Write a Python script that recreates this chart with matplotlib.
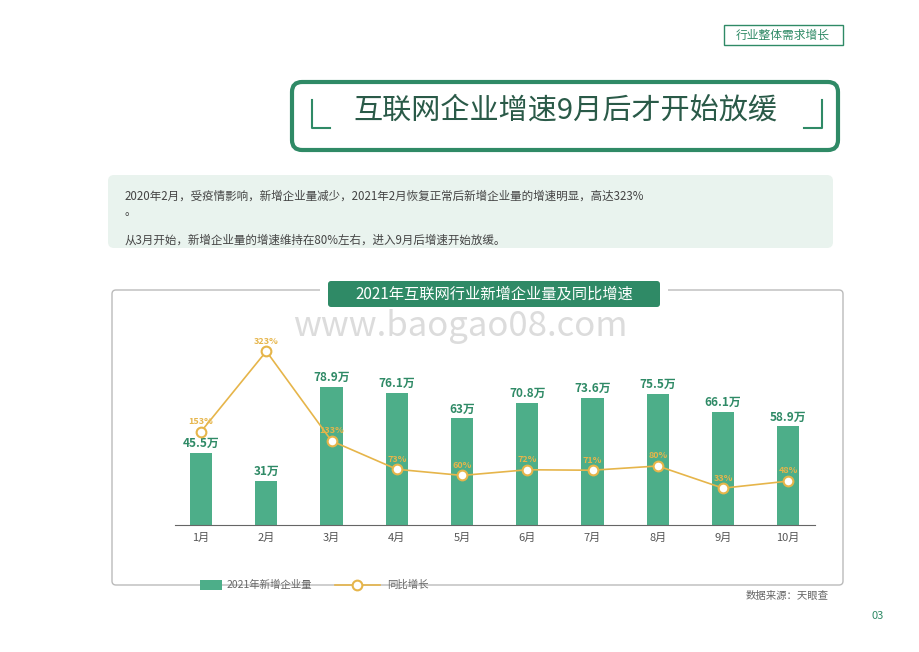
import matplotlib
matplotlib.use("Agg")
import matplotlib.pyplot as plt
from matplotlib.patches import FancyBboxPatch, Rectangle

plt.rcParams["font.family"] = "Noto Sans CJK SC"

months = ["1月", "2月", "3月", "4月", "5月", "6月", "7月", "8月", "9月", "10月"]
new_firms = [45.5, 31, 78.9, 76.1, 63, 70.8, 73.6, 75.5, 66.1, 58.9]
bar_labels = ["45.5万", "31万", "78.9万", "76.1万", "63万", "70.8万", "73.6万", "75.5万", "66.1万", "58.9万"]
yoy = [153, 323, 133, 73, 60, 72, 71, 80, 33, 48]

GREEN = "#4dae89"
DGREEN = "#2f8a66"
GOLD = "#e6b54a"

W, H = 920, 652
fig = plt.figure(figsize=(9.2, 6.52), dpi=100)
bg = fig.add_axes([0, 0, 1, 1])
bg.set_xlim(0, W); bg.set_ylim(H, 0); bg.axis("off")

bg.add_patch(Rectangle((724, 25), 119, 20, fill=False, ec=DGREEN, lw=1))
bg.text(783, 35, "行业整体需求增长", ha="center", va="center", fontsize=8.5, color=DGREEN)

bg.add_patch(FancyBboxPatch((292, 82), 546, 68, boxstyle="round,pad=0,rounding_size=10",
                            fill=False, ec=DGREEN, lw=3))
bg.text(565, 111, "互联网企业增速9月后才开始放缓", ha="center", va="center",
        fontsize=21, color="#2a5a48")
bg.plot([312, 312, 330], [100, 128, 128], color=DGREEN, lw=1.5)
bg.plot([822, 822, 804], [100, 128, 128], color=DGREEN, lw=1.5)

bg.add_patch(FancyBboxPatch((108, 175), 725, 73, boxstyle="round,pad=0,rounding_size=6",
                            fc="#e9f3ee", ec="none"))
tc = "#444444"
bg.text(125, 196, "2020年2月，受疫情影响，新增企业量减少，2021年2月恢复正常后新增企业量的增速明显，高达323%",
        va="center", fontsize=8.3, color=tc)
bg.text(125, 211, "。", va="center", fontsize=8.3, color=tc)
bg.text(125, 240, "从3月开始，新增企业量的增速维持在80%左右，进入9月后增速开始放缓。",
        va="center", fontsize=8.3, color=tc)

bg.add_patch(FancyBboxPatch((112, 290), 731, 295, boxstyle="round,pad=0,rounding_size=4",
                            fill=False, ec="#bbbbbb", lw=1))
bg.text(460, 326, "www.baogao08.com", ha="center", va="center", fontsize=25,
        color="#dcdcdc", zorder=0)
bg.add_patch(Rectangle((320, 279), 348, 28, fc="white", ec="none", zorder=1))
bg.add_patch(FancyBboxPatch((328, 281), 332, 26, boxstyle="round,pad=0,rounding_size=3",
                            fc=DGREEN, ec="none", zorder=2))
bg.text(494, 294, "2021年互联网行业新增企业量及同比增速", ha="center", va="center",
        fontsize=11, color="white", zorder=3)

bg.add_patch(Rectangle((200, 580), 22, 10, fc=GREEN, ec="none"))
bg.text(227, 585, "2021年新增企业量", va="center", fontsize=7.5, color="#666666")
bg.plot([335, 380], [585, 585], color=GOLD, lw=1.2)
bg.plot([357], [585], "o", ms=7, mfc="white", mec=GOLD, mew=1.5)
bg.text(387, 585, "同比增长", va="center", fontsize=7.5, color="#666666")
bg.text(746, 596, "数据来源：天眼查", va="center", fontsize=7.5, color="#666666")
bg.text(878, 616, "03", ha="center", va="center", fontsize=8, color=DGREEN)

ax = fig.add_axes([175 / W, (H - 525) / H, 640 / W, 195 / H])
x = list(range(len(months)))
ax.bar(x, new_firms, width=0.34, color=GREEN, zorder=2)
ax.set_xlim(-0.4, 9.41)
ax.set_ylim(8.7, 108)
for xi, v, lab in zip(x, new_firms, bar_labels):
    ax.text(xi, v + 1.5, lab, ha="center", va="bottom", fontsize=8.5,
            fontweight="bold", color=DGREEN)
ax.set_xticks(x)
ax.set_xticklabels(months, fontsize=8, color="#555555")
ax.tick_params(axis="x", length=0, pad=6)
ax.set_yticks([])
for s in ["top", "right", "left"]:
    ax.spines[s].set_visible(False)
ax.spines["bottom"].set_color("#666666")
ax.patch.set_alpha(0)

ax2 = ax.twinx()
ax2.set_ylim(-45, 368)
ax2.plot(x, yoy, color=GOLD, lw=1.2, marker="o", ms=7, mfc="white", mec=GOLD, mew=1.5, zorder=3)
for xi, v in zip(x, yoy):
    ax2.text(xi, v + 12, f"{v}%", ha="center", va="bottom", fontsize=6.5,
             fontweight="bold", color=GOLD)
ax2.axis("off")

fig.savefig("out.png", dpi=100)
